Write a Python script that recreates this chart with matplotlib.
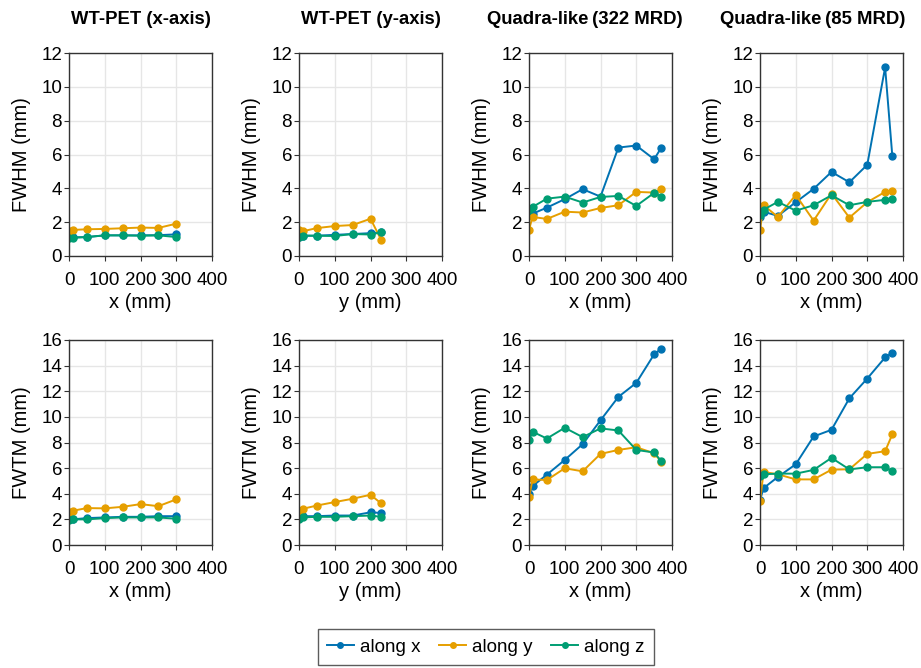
import numpy as np
import matplotlib.pyplot as plt
from matplotlib.lines import Line2D

plt.rcParams["font.family"] = ["Liberation Sans", "DejaVu Sans"]

# ---- data -------------------------------------------------------------
titles = ["WT-PET (x-axis)", "WT-PET (y-axis)", "Quadra-like\u2009(322 MRD)", "Quadra-like\u2009(85 MRD)"]
xlabels = ["x (mm)", "y (mm)", "x (mm)", "x (mm)"]
series_names = ["along x", "along y", "along z"]

pos_wt_x = [0, 10, 50, 100, 150, 200, 250, 300]
pos_wt_y = [0, 10, 50, 100, 150, 200, 230]
pos_quad = [0, 10, 50, 100, 150, 200, 250, 300, 350, 370]

# FWHM (mm)
fwhm_wtx_x = [1.10, 1.10, 1.12, 1.22, 1.22, 1.22, 1.23, 1.28]
fwhm_wtx_y = [1.50, 1.54, 1.58, 1.60, 1.64, 1.68, 1.66, 1.91]
fwhm_wtx_z = [1.05, 1.08, 1.12, 1.22, 1.22, 1.20, 1.22, 1.12]

fwhm_wty_x = [1.10, 1.20, 1.20, 1.25, 1.30, 1.35, 1.40]
fwhm_wty_y = [1.54, 1.46, 1.65, 1.77, 1.83, 2.20, 0.95]
fwhm_wty_z = [1.10, 1.20, 1.20, 1.18, 1.30, 1.27, 1.40]

fwhm_q322_x = [2.40, 2.50, 2.86, 3.36, 3.95, 3.51, 6.41, 6.53, 5.72, 6.40]
fwhm_q322_y = [1.56, 2.31, 2.19, 2.62, 2.57, 2.84, 3.00, 3.79, 3.75, 3.95]
fwhm_q322_z = [2.70, 2.90, 3.39, 3.51, 3.16, 3.49, 3.55, 2.96, 3.73, 3.51]

fwhm_q85_x = [2.30, 2.62, 2.37, 3.18, 3.97, 4.97, 4.36, 5.39, 11.15, 5.94]
fwhm_q85_y = [1.54, 3.00, 2.31, 3.61, 2.09, 3.69, 2.27, 3.18, 3.79, 3.85]
fwhm_q85_z = [2.40, 2.74, 3.20, 2.68, 3.00, 3.59, 3.00, 3.20, 3.32, 3.36]

# FWTM (mm)
fwtm_wtx_x = [2.00, 2.00, 2.10, 2.15, 2.20, 2.20, 2.25, 2.25]
fwtm_wtx_y = [2.60, 2.67, 2.88, 2.86, 2.98, 3.19, 3.03, 3.56]
fwtm_wtx_z = [1.95, 2.00, 2.00, 2.10, 2.15, 2.15, 2.15, 2.05]

fwtm_wty_x = [2.10, 2.25, 2.25, 2.30, 2.30, 2.55, 2.50]
fwtm_wty_y = [2.50, 2.82, 3.08, 3.35, 3.61, 3.92, 3.24]
fwtm_wty_z = [2.00, 2.15, 2.20, 2.20, 2.25, 2.30, 2.20]

fwtm_q322_x = [3.97, 4.60, 5.49, 6.64, 7.87, 9.73, 11.56, 12.65, 14.88, 15.32]
fwtm_q322_y = [3.71, 5.12, 5.07, 5.99, 5.75, 7.11, 7.42, 7.63, 7.16, 6.51]
fwtm_q322_z = [8.16, 8.84, 8.31, 9.15, 8.42, 9.10, 8.94, 7.42, 7.22, 6.54]

fwtm_q85_x = [3.50, 4.44, 5.31, 6.30, 8.47, 8.99, 11.45, 12.99, 14.64, 15.00]
fwtm_q85_y = [3.40, 5.70, 5.52, 5.12, 5.12, 5.88, 5.91, 7.11, 7.32, 8.63]
fwtm_q85_z = [5.40, 5.52, 5.57, 5.57, 5.86, 6.80, 5.90, 6.07, 6.07, 5.75]

positions = [pos_wt_x, pos_wt_y, pos_quad, pos_quad]
fwhm = [
    [fwhm_wtx_x, fwhm_wtx_y, fwhm_wtx_z],
    [fwhm_wty_x, fwhm_wty_y, fwhm_wty_z],
    [fwhm_q322_x, fwhm_q322_y, fwhm_q322_z],
    [fwhm_q85_x, fwhm_q85_y, fwhm_q85_z],
]
fwtm = [
    [fwtm_wtx_x, fwtm_wtx_y, fwtm_wtx_z],
    [fwtm_wty_x, fwtm_wty_y, fwtm_wty_z],
    [fwtm_q322_x, fwtm_q322_y, fwtm_q322_z],
    [fwtm_q85_x, fwtm_q85_y, fwtm_q85_z],
]

colors = ["#0072B2", "#E69F00", "#009E73"]

# ---- layout (pixels) --------------------------------------------------
W, H = 921, 668
fig = plt.figure(figsize=(W / 100, H / 100), dpi=100)

lefts = [69, 299, 529, 760]
width = 143
rows = [(53, 256), (340, 545)]  # (top, bottom) px
title_x = [141, 371, 585, 813]  # title centres, px


def _style(ax, ymax, ystep, ylabel, xlabel):
    ax.set_xlim(0, 400)
    ax.set_ylim(0, ymax)
    ax.set_xticks([0, 100, 200, 300, 400])
    ax.set_yticks(np.arange(0, ymax + 0.1, ystep))
    ax.grid(True, color="#e6e6e6", linewidth=1)
    ax.set_axisbelow(True)
    for s in ax.spines.values():
        s.set_color("#333333")
        s.set_linewidth(1)
    ax.tick_params(labelsize=13.5, length=3.5, color="#333333")
    ax.tick_params(axis="x", pad=8)
    ax.tick_params(axis="y", pad=1.5)
    ax.set_ylabel(ylabel, fontsize=14.5, labelpad=7)
    ax.set_xlabel(xlabel, fontsize=14.5, labelpad=3)


for c in range(4):
    for r, (data, ymax, ystep, ylabel) in enumerate(
        [(fwhm, 12, 2, "FWHM (mm)"), (fwtm, 16, 2, "FWTM (mm)")]
    ):
        top, bot = rows[r]
        ax = fig.add_axes([lefts[c] / W, 1 - bot / H, width / W, (bot - top) / H])
        for k in range(3):
            ax.plot(positions[c], data[c][k], color=colors[k], lw=1.4,
                    marker="o", ms=5, label=series_names[k])
        _style(ax, ymax, ystep, ylabel, xlabels[c])
    fig.text(title_x[c] / W, 1 - 19 / H, titles[c], fontsize=13.3,
             fontweight="bold", ha="center", va="center")

handles = [Line2D([], [], color=colors[k], lw=1.4, marker="o", ms=4)
           for k in range(3)]
leg = fig.legend(handles, series_names, loc="center", ncol=3,
                 bbox_to_anchor=(486 / W, 1 - 647 / H), fontsize=13.5,
                 frameon=True, fancybox=False, handlelength=1.4,
                 columnspacing=1.0, handletextpad=0.35, borderpad=0.5)
leg.get_frame().set_edgecolor("#333333")
leg.get_frame().set_linewidth(1)

fig.savefig("out.png", dpi=100)
